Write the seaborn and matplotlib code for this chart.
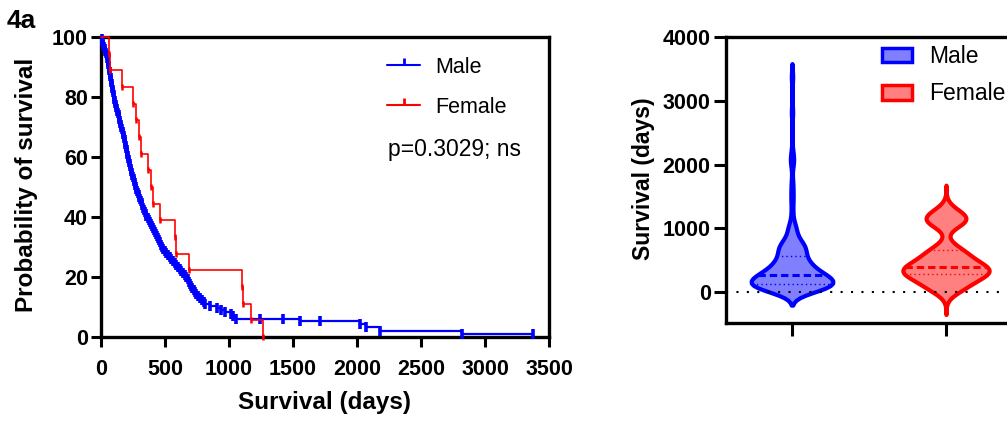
import numpy as np
import pandas as pd
import matplotlib
matplotlib.use("Agg")
import matplotlib.pyplot as plt
import seaborn as sns
from matplotlib.lines import Line2D
from matplotlib.patches import Patch

# ---------------- data (survival in days) ----------------
groups = ["Male", "Female"]

male_deaths = [4, 9, 13, 19, 24, 29, 33, 37, 43, 47, 52, 55,
               58, 61, 63, 66, 69, 71, 74, 76, 79, 82, 84, 86, 89, 92, 95, 98, 101, 104, 107,
               112, 116, 121, 124, 128, 132, 137, 140, 144, 149, 152, 156, 160,
               165, 169, 172, 177, 180, 184, 188, 191, 194, 197,
               201, 204, 207, 210, 213, 216, 219, 223, 227, 231, 236, 241, 245,
               250, 255, 260, 264, 268, 272, 277,
               283, 288, 294, 298, 303,
               310, 317, 323, 330, 336, 343, 349, 355,
               364, 372, 381, 390, 398, 406,
               415, 423, 431, 440, 447, 455, 463, 471, 479, 486,
               498, 511, 524, 537, 550, 562,
               576, 589, 602, 615, 628, 641, 654, 666,
               678, 687, 696, 705, 714, 723, 732, 742,
               758, 772, 787, 801, 816,
               852, 905, 935, 972,
               1018, 1034, 1052,
               1555, 2023, 2067, 2180, 2818]
male_censored = [1242, 1424, 1711, 3372]

female_deaths = [60, 68, 167, 253, 271, 300, 312, 370, 391, 409, 461,
                 578, 585, 688, 1105, 1110, 1169, 1263]
female_censored = []

p_text = "p=0.3029; ns"

x_ticks_km = [0, 500, 1000, 1500, 2000, 2500, 3000, 3500]
y_ticks_km = [0, 20, 40, 60, 80, 100]
y_ticks_vio = [0, 1000, 2000, 3000, 4000]

line_colors = {"Male": "#0000FF", "Female": "#FF0000"}
fill_colors = {"Male": "#8080FF", "Female": "#FF8080"}


def kaplan_meier(deaths, censored):
    times = sorted(set(deaths) | set(censored))
    at_risk = len(deaths) + len(censored)
    s = 100.0
    xs, ys = [0.0], [100.0]
    for t in times:
        d = deaths.count(t)
        c = censored.count(t)
        if d:
            s *= 1.0 - d / at_risk
        xs.append(t)
        ys.append(s)
        at_risk -= d + c
    return np.array(xs), np.array(ys)


sns.set_style("ticks")
plt.rcParams["font.family"] = ["Liberation Sans", "DejaVu Sans"]
for key in ["text.color", "axes.labelcolor", "xtick.color", "ytick.color", "axes.edgecolor"]:
    plt.rcParams[key] = "black"
plt.rcParams["axes.linewidth"] = 2.4

fig = plt.figure(figsize=(10.07, 4.21), dpi=100)
ax1 = fig.add_axes([101 / 1007, (421 - 337) / 421, 448 / 1007, 300 / 421])
ax2 = fig.add_axes([726 / 1007, (421 - 323) / 421, 286 / 1007, 286 / 421])

# ---------------- Kaplan-Meier panel ----------------
km_data = {"Male": (male_deaths, male_censored), "Female": (female_deaths, female_censored)}
styles = {"Male": dict(lw=1.6, ms=7, mew=2.6), "Female": dict(lw=1.2, ms=4.5, mew=1.8)}
for g in groups:
    xs, ys = kaplan_meier(*km_data[g])
    df_km = pd.DataFrame({"days": xs, "surv": ys})
    sns.lineplot(data=df_km, x="days", y="surv", drawstyle="steps-post", estimator=None,
                 sort=False, color=line_colors[g], lw=styles[g]["lw"], ax=ax1, clip_on=False,
                 zorder=3 if g == "Male" else 4)
    ax1.plot(xs[1:], ys[1:], ls="none", marker="|", ms=styles[g]["ms"], mew=styles[g]["mew"],
             color=line_colors[g], clip_on=False, zorder=3 if g == "Male" else 4)

ax1.set_xlim(0, 3500)
ax1.set_ylim(0, 100)
ax1.set_xticks(x_ticks_km)
ax1.set_yticks(y_ticks_km)
for sp in ax1.spines.values():
    sp.set_linewidth(2.4)
    sp.set_color("black")
ax1.tick_params(axis="both", direction="out", length=7.5, width=2.2, colors="black",
                labelsize=15.5)
ax1.tick_params(axis="x", pad=8)
ax1.tick_params(axis="y", pad=2)
for lab in ax1.get_xticklabels() + ax1.get_yticklabels():
    lab.set_fontweight("bold")
ax1.set_xlabel("Survival (days)", fontsize=17.5, fontweight="bold")
ax1.set_ylabel("Probability of survival", fontsize=17.5, fontweight="bold")
ax1.xaxis.set_label_coords((325 - 101) / 448, (337 - 391) / 300)
ax1.yaxis.set_label_coords((38 - 101) / 448, 0.507)

km_handles = [Line2D([], [], color=line_colors[g], lw=1.5, marker=2, ms=5, mew=2) for g in groups]
ax1.legend(km_handles, groups, loc="upper left", bbox_to_anchor=(387 / 1007, 1 - 57 / 421),
           bbox_transform=fig.transFigure, frameon=False, fontsize=15.5, handlelength=1.55,
           handletextpad=0.7, labelspacing=0.88, borderpad=0, borderaxespad=0, numpoints=1)
fig.text(454 / 1007, 1 - 149 / 421, p_text, ha="center", va="center", fontsize=16.5)

fig.text(7 / 1007, 1 - 9 / 421, "4a", ha="left", va="top", fontsize=19, fontweight="bold")

# ---------------- Violin panel ----------------
male_all = male_deaths + male_censored
female_all = female_deaths + female_censored
df = pd.DataFrame({"sex": ["Male"] * len(male_all) + ["Female"] * len(female_all),
                   "days": male_all + female_all})

vio_params = {"Male": dict(bw=100, cut=2.1, width=0.53), "Female": dict(bw=118, cut=3.5, width=0.56)}
for g in groups:
    sub = df[df["sex"] == g]
    p = vio_params[g]
    sns.violinplot(data=sub, x="sex", y="days", order=groups, color=fill_colors[g],
                   linecolor=line_colors[g], linewidth=3, inner="quart", saturation=1,
                   bw_method=p["bw"] / sub["days"].std(), cut=p["cut"], density_norm="width",
                   width=p["width"], ax=ax2)
    q1, med, q3 = ax2.lines[-3:]
    for q in (q1, q3):
        q.set_linewidth(1.0)
        q.set_dashes((1, 2.2))
    med.set_linewidth(2.2)
    med.set_dashes((2.4, 1.3))

ax2.axhline(0, color="black", lw=1.5, ls=(0, (1, 4)), zorder=6)
ax2.set_xlim(-0.4286, 1.4286)
ax2.set_ylim(-486, 4000)
ax2.set_yticks(y_ticks_vio)
ax2.set_xticks([0, 1])
ax2.set_xticklabels(["", ""])
ax2.set_xlabel("")
for sp in ax2.spines.values():
    sp.set_linewidth(2.4)
    sp.set_color("black")
ax2.tick_params(axis="both", direction="out", length=9, width=2.2, colors="black", labelsize=15.5)
ax2.tick_params(axis="y", pad=2)
for lab in ax2.get_yticklabels():
    lab.set_fontweight("bold")
ax2.set_ylabel("Survival (days)", fontsize=16.5, fontweight="bold")
ax2.yaxis.set_label_coords((655 - 726) / 286, 0.503)

vio_handles = [Patch(facecolor=fill_colors[g], edgecolor=line_colors[g], linewidth=2.5) for g in groups]
ax2.legend(vio_handles, groups, loc="upper left", bbox_to_anchor=(882 / 1007, 1 - 45 / 421),
           bbox_transform=fig.transFigure, frameon=False, fontsize=16.5, handlelength=1.3,
           handleheight=0.62, handletextpad=0.75, labelspacing=0.62, borderpad=0, borderaxespad=0)

fig.savefig("out.png", dpi=100)
